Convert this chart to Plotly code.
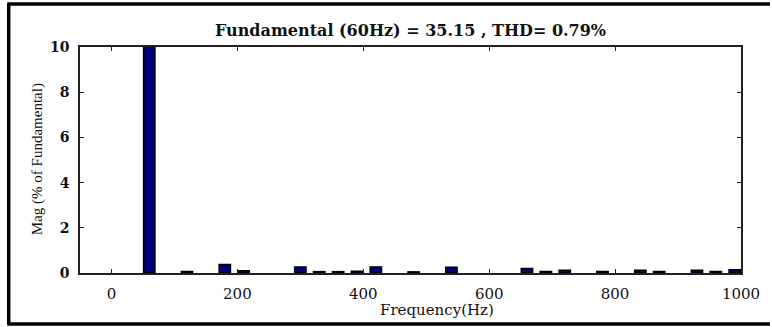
import plotly.graph_objects as go

# Harmonic spectrum (magnitude in % of the 60 Hz fundamental)
freq_hz = [60, 120, 180, 210, 300, 330, 360, 390, 420, 480,
           540, 660, 690, 720, 780, 840, 870, 930, 960, 990]
mag_pct = [100, 0.07, 0.38, 0.10, 0.27, 0.06, 0.06, 0.08, 0.27, 0.05,
           0.25, 0.20, 0.07, 0.12, 0.07, 0.12, 0.07, 0.12, 0.07, 0.14]

x_ticks = [0, 200, 400, 600, 800, 1000]
y_ticks = [0, 2, 4, 6, 8, 10]

title_text = "Fundamental (60Hz) = 35.15 , THD= 0.79%"
x_title = "Frequency(Hz)"
y_title = "Mag (% of Fundamental)"

W, H = 772, 327
L, R, T, B = 80, 29, 47, 54
PW, PH = W - L - R, H - T - B


def px(x):
    return (x - L) / PW


def py(y):
    return (H - B - y) / PH


SERIF = "DejaVu Serif"

fig = go.Figure(
    go.Bar(
        x=freq_hz,
        y=mag_pct,
        width=18,
        marker=dict(color="#00007a", line=dict(color="black", width=1.5)),
    )
)

axis_common = dict(
    showline=True,
    linecolor="#222",
    linewidth=1.5,
    mirror="ticks",
    ticks="inside",
    ticklen=4,
    tickwidth=1.2,
    tickcolor="#222",
    showgrid=False,
    zeroline=False,
)

fig.update_xaxes(
    range=[-50, 1000],
    tickvals=x_ticks,
    ticktext=[str(v) for v in x_ticks],
    tickfont=dict(family=SERIF, size=15, color="#111"),
    ticklabelstandoff=6,
    **axis_common,
)
fig.update_yaxes(
    range=[0, 10],
    tickvals=y_ticks,
    ticktext=[str(v) for v in y_ticks],
    tickfont=dict(family=SERIF, size=14, color="#111", weight="bold"),
    ticklabelstandoff=6,
    **axis_common,
)

annotations = [
    dict(text="<b>" + title_text + "</b>", x=0.5, y=py(31), xref="paper", yref="paper",
         showarrow=False, xanchor="center", yanchor="middle",
         font=dict(family=SERIF, size=16, color="#111")),
    dict(text=x_title, x=px(438), y=py(310), xref="paper", yref="paper",
         showarrow=False, xanchor="center", yanchor="middle",
         font=dict(family=SERIF, size=15, color="#111")),
    dict(text=y_title, x=px(37), y=py(159), xref="paper", yref="paper",
         showarrow=False, xanchor="center", yanchor="middle", textangle=-90,
         font=dict(family="Liberation Serif", size=15, color="#111")),
]

# Outer frame (top, left and bottom edges)
frame = dict(type="line", xref="paper", yref="paper", line=dict(color="black", width=3.5))
shapes = [
    dict(frame, x0=px(7), x1=px(772), y0=py(4), y1=py(4)),
    dict(frame, x0=px(8.5), x1=px(8.5), y0=py(4), y1=py(324)),
    dict(frame, x0=px(7), x1=px(772), y0=py(324), y1=py(324)),
]

fig.update_layout(
    width=W,
    height=H,
    margin=dict(l=L, r=R, t=T, b=B),
    paper_bgcolor="white",
    plot_bgcolor="white",
    showlegend=False,
    annotations=annotations,
    shapes=shapes,
)

fig.write_html("out.html")
